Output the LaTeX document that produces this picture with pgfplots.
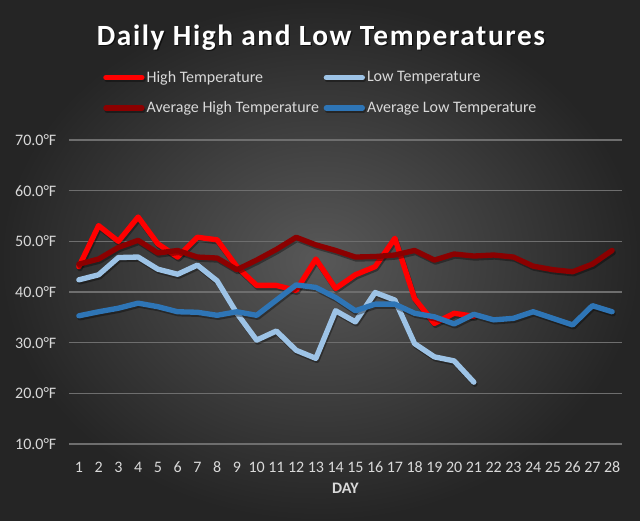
\documentclass[border=0pt]{standalone}
\usepackage{fontspec}
\setmainfont{Carlito}
\usepackage{pgfplots}
\pgfplotsset{compat=1.18}
\definecolor{bgin}{HTML}{585858}
\definecolor{bgout}{HTML}{252525}
\definecolor{gridc}{HTML}{6E6E6E}
\definecolor{txt}{HTML}{D9D9D9}
\definecolor{hiT}{HTML}{FF0000}
\definecolor{loT}{HTML}{9DC3E6}
\definecolor{avgHi}{HTML}{8B0000}
\definecolor{avgLo}{HTML}{2E75B6}
\begin{document}
\begin{tikzpicture}[x=1pt,y=1pt]
\shade[inner color=bgin, outer color=bgout] (0,0) rectangle (480,390.75);
\node[text=black, opacity=0.6, font=\fontsize{22}{26}\selectfont\bfseries\addfontfeatures{LetterSpace=5.5}] at (241.75,361.5) {Daily High and Low Temperatures};
\node[text=white, font=\fontsize{22}{26}\selectfont\bfseries\addfontfeatures{LetterSpace=5.5}] at (240.75,362.5) {Daily High and Low Temperatures};
\begin{axis}[
  at={(51.75pt,57.75pt)}, anchor=south west,
  scale only axis, width=414.75pt, height=228pt,
  xmin=0.5, xmax=28.5, ymin=10, ymax=70,
  xtick={1,...,28}, ytick={10,20,...,70},
  /pgf/number format/assume math mode=true,
  yticklabel={\pgfmathprintnumber[fixed,fixed zerofill,precision=1]{\tick}°F},
  axis line style={draw=none},
  major tick length=0pt,
  ymajorgrids, major grid style={draw=gridc, line width=0.9pt},
  tick label style={text=txt, font=\fontsize{12}{14}\selectfont},
  yticklabel style={xshift=-6pt},
  xticklabel style={yshift=-10pt},
  xlabel={\textbf{DAY}}, xlabel style={text=txt, font=\fontsize{12}{14}\selectfont, yshift=-1pt},
  legend columns=2,
  legend style={at={(axis description cs:0.0615,1.155)}, anchor=west, fill=none, draw=none,
    text=txt, font=\fontsize{12}{14}\selectfont, inner sep=0pt,
    nodes={inner xsep=1.5pt},
    /tikz/every even column/.append style={column sep=2pt},
    row sep=9pt},
  legend cell align=left,
  legend image code/.code={\draw[#1, line width=4pt, line cap=round] (0pt,0pt) -- (27pt,0pt);},
  every axis plot/.append style={line width=4pt, line join=round, line cap=round, mark=none,
    preaction={draw=black, opacity=0.35, transform canvas={shift={(0.8pt,-1.5pt)}}}},
  clip=false,
]
\addplot[hiT] coordinates {(1,45.0)(2,53.1)(3,50.0)(4,54.8)(5,49.5)(6,46.9)(7,50.8)(8,50.3)(9,45.0)(10,41.3)(11,41.3)(12,40.3)(13,46.5)(14,40.7)(15,43.4)(16,45.0)(17,50.6)(18,38.7)(19,33.8)(20,35.8)(21,35.2)};
\addlegendentry{High Temperature}
\addplot[loT] coordinates {(1,42.4)(2,43.4)(3,46.8)(4,46.9)(5,44.5)(6,43.5)(7,45.3)(8,42.2)(9,35.8)(10,30.5)(11,32.3)(12,28.5)(13,26.9)(14,36.3)(15,34.1)(16,39.9)(17,38.4)(18,29.8)(19,27.2)(20,26.4)(21,22.2)};
\addlegendentry{Low Temperature}
\addplot[avgHi] coordinates {(1,45.5)(2,46.5)(3,48.8)(4,50.2)(5,47.7)(6,48.2)(7,46.9)(8,46.7)(9,44.4)(10,46.3)(11,48.4)(12,50.8)(13,49.3)(14,48.2)(15,46.9)(16,47.0)(17,47.3)(18,48.2)(19,46.3)(20,47.5)(21,47.1)(22,47.3)(23,46.9)(24,45.1)(25,44.4)(26,44.0)(27,45.5)(28,48.2)};
\addlegendentry{Average High Temperature}
\addplot[avgLo] coordinates {(1,35.3)(2,36.1)(3,36.8)(4,37.8)(5,37.1)(6,36.1)(7,36.0)(8,35.4)(9,36.1)(10,35.4)(11,38.4)(12,41.4)(13,40.9)(14,38.9)(15,36.3)(16,37.6)(17,37.6)(18,35.8)(19,35.1)(20,33.7)(21,35.6)(22,34.5)(23,34.8)(24,36.1)(25,34.8)(26,33.5)(27,37.3)(28,36.1)};
\addlegendentry{Average Low Temperature}
\end{axis}
\useasboundingbox (0,0) rectangle (480,390.75);
\end{tikzpicture}
\end{document}
